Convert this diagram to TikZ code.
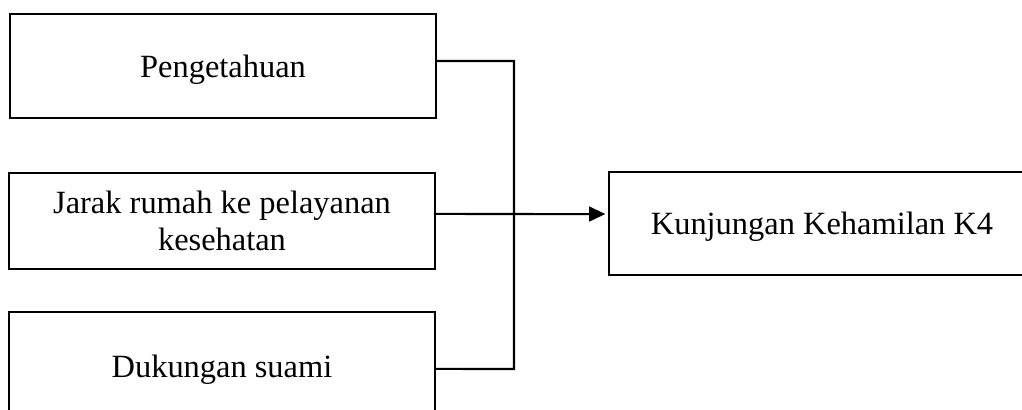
\documentclass[tikz,border=0pt]{standalone}
\usepackage{fontspec}
\setmainfont{Liberation Serif}
\usetikzlibrary{arrows.meta,positioning,calc}

\tikzset{
  varbox/.style={draw, line width=0.75pt, rectangle, inner sep=0pt, align=center,
    minimum width=157.6pt, text depth=0pt, font=\fontsize{12}{13.8}\selectfont},
  link/.style={line width=0.75pt},
  linkarrow/.style={line width=0.75pt, -{Triangle[length=6pt,width=5.5pt]}}
}

\begin{document}
\begin{tikzpicture}[line cap=butt,line join=miter,x=0.37pt,y=-0.37pt]
  \useasboundingbox (0,0) rectangle (1022,410);
  % independent variables
  \node[varbox, minimum height=38.5pt] (tahu) at (223,66) {Pengetahuan};
  \node[varbox, minimum height=35.5pt] (jarak) at (222,221) {Jarak rumah ke pelayanan\\kesehatan};
  \node[varbox, minimum height=40pt] (suami) at (222,366) {Dukungan suami};
  % dependent variable
  \node[varbox, minimum height=38.1pt] (kunjungan) at (822,223.5) {Kunjungan Kehamilan K4};
  % connectors
  \coordinate (top) at (514,61);
  \coordinate (bot) at (514,369);
  \draw[link] ([yshift=1.85pt]tahu.east) -- (top) -- (bot) -- ([yshift=-1.1pt]suami.east);
  \draw[linkarrow] ([xshift=-0.75pt,yshift=2.6pt]jarak.east) -- ([xshift=-1pt,yshift=3.5pt]kunjungan.west);
\end{tikzpicture}
\end{document}
